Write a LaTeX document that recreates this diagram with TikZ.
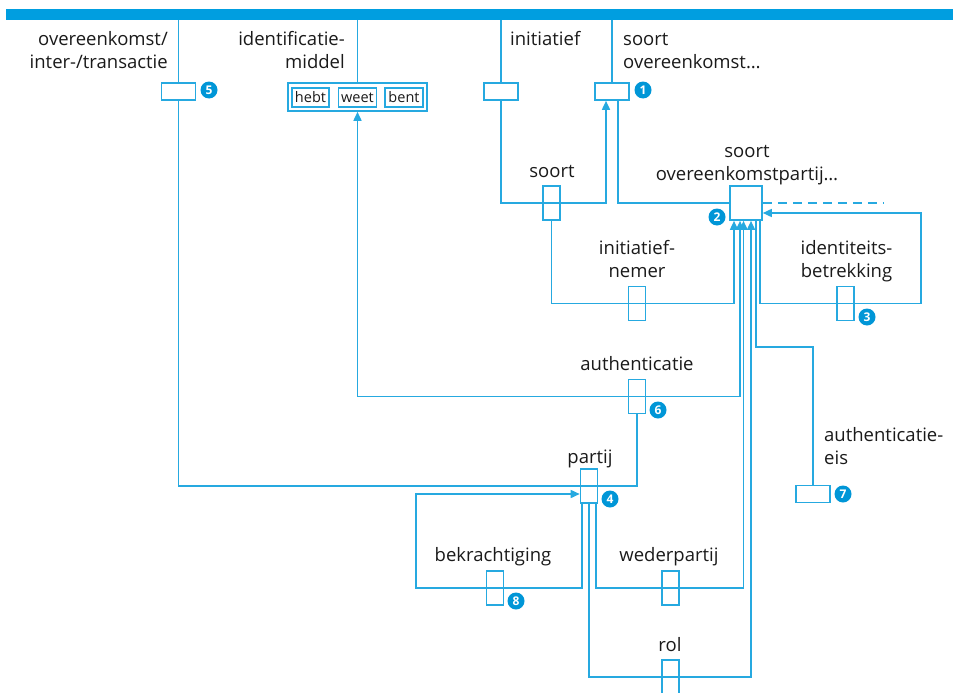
\documentclass[tikz,border=0pt]{standalone}
\usepackage{fontspec}
\setmainfont{Open Sans}
\usetikzlibrary{arrows.meta,calc}
\definecolor{lineblue}{RGB}{38,169,224}
\definecolor{barblue}{RGB}{0,158,224}
\definecolor{badgeblue}{RGB}{0,150,215}
\definecolor{inktext}{RGB}{26,26,26}
\tikzset{
  conn/.style={draw=lineblue, line width=1.6pt},
  arr/.style={conn, -{Triangle[length=9pt,width=8pt]}},
  relbox/.style={draw=lineblue, line width=1.6pt, inner sep=0pt},
  relh/.style={relbox, minimum width=34pt, minimum height=17pt},
  relv/.style={relbox, minimum width=17pt, minimum height=34pt},
  lbl/.style={inner sep=0pt, text=inktext, font=\fontsize{18.5}{23}\selectfont},
  wordbox/.style={draw=lineblue, line width=1.2pt, inner sep=0pt, minimum height=19pt,
    text=inktext, font=\fontsize{14.5}{17}\selectfont},
  badge/.style={circle, fill=badgeblue, inner sep=0pt, minimum size=17pt,
    text=white, font=\fontsize{12}{14}\selectfont\bfseries},
}
\begin{document}
\begin{tikzpicture}[x=1pt, y=-1pt]
\useasboundingbox (0,0) rectangle (953,693);

% header bar
\node[fill=barblue, inner sep=0pt, minimum width=947pt, minimum height=11pt] (topbar) at (479.5,14.5) {};

% relation boxes
\node[relh] (b5) at (178.5,91.5) {};
\node[relbox, minimum width=139pt, minimum height=28pt] (idm) at (357.5,97) {};
\node[wordbox, minimum width=37pt] (hebt) at (310.5,97.5) {hebt};
\node[wordbox, minimum width=38pt] (weet) at (357.5,97.5) {weet};
\node[wordbox, minimum width=38pt] (bent) at (404,97.5) {bent};
\node[relh] (bInit) at (501,91.5) {};
\node[relh] (b1) at (612,91.5) {};
\node[relv] (bSoort) at (551.5,203) {};
\node[relbox, minimum width=32pt, minimum height=34pt] (b2) at (746,203) {};
\node[relv] (bNemer) at (637,303.5) {};
\node[relv] (bIdent) at (845.5,303.5) {};
\node[relv] (bAuth) at (637,396.5) {};
\node[relh] (bAE) at (813,494) {};
\node[relv] (bPartij) at (589,486) {};
\node[relv] (bBekr) at (495,588) {};
\node[relv] (bWeder) at (670.5,588) {};
\node[relv] (bRol) at (670.5,677) {};

% labels
\node[lbl, anchor=north east, align=right] (tOvk) at (168,29) {\strut overeenkomst/\\\strut inter-/transactie};
\node[lbl, anchor=north east, align=right] (tIdm) at (345,29) {\strut identificatie-\\\strut middel};
\node[lbl, anchor=north west] (tInit) at (510,29) {\strut initiatief};
\node[lbl, anchor=north west, align=left] (tSoortOvk) at (623,29) {\strut soort\\\strut overeenkomst…};
\node[lbl, anchor=north] (tSoort) at (552,160.7) {\strut soort};
\node[lbl, anchor=north, align=center] (tSop) at (747,140.7) {\strut soort\\\strut overeenkomstpartij…};
\node[lbl, anchor=north, align=center] (tNemer) at (637,238) {\strut initiatief-\\\strut nemer};
\node[lbl, anchor=north, align=center] (tIdent) at (846.5,238) {\strut identiteits-\\\strut betrekking};
\node[lbl, anchor=north] (tAuth) at (637,354) {\strut authenticatie};
\node[lbl, anchor=north] (tPartij) at (590,447) {\strut partij};
\node[lbl, anchor=north] (tBekr) at (493,545) {\strut bekrachtiging};
\node[lbl, anchor=north] (tWeder) at (669,545) {\strut wederpartij};
\node[lbl, anchor=north] (tRol) at (670,635) {\strut rol};
\node[lbl, anchor=north west, align=left] (tAE) at (824,425) {\strut authenticatie-\\\strut eis};

% badges
\node[badge] (n1) at (643,90) {1};
\node[badge] (n2) at (717,217) {2};
\node[badge] (n3) at (867,317) {3};
\node[badge] (n4) at (610,499) {4};
\node[badge] (n5) at (209,90) {5};
\node[badge] (n6) at (658,410) {6};
\node[badge] (n7) at (843,494) {7};
\node[badge] (n8) at (516,601) {8};

% corner points
\coordinate (dashEnd) at (883,203);
\coordinate (idR) at (921,213);
\coordinate (aeTurn) at (813,347);
\coordinate (bkL) at (416,494);

% drops from the header bar
\draw[conn] (b5.north |- topbar.south) -- (b5.north);
\draw[conn] (idm.north |- topbar.south) -- (idm.north);
\draw[conn] (bInit.north |- topbar.south) -- (bInit.north);
\draw[conn] (b1.north |- topbar.south) -- (b1.north);

% connectors
\draw[arr] (bInit.south) |- (bSoort.center) -| ([xshift=-6pt]b1.south);
\draw[conn] ([xshift=6pt]b1.south) |- (b2.west);
\draw[conn, dash pattern=on 9pt off 6pt] (b2.east) -- (dashEnd);
\draw[arr] (bSoort.south) |- (bNemer.center) -| ([xshift=-12pt]b2.south);
\draw[arr] ([xshift=14pt]b2.south) |- (bIdent.center) -| (idR) -- ([yshift=-10pt]b2.east);
\draw[arr] (bAuth.center) -| (idm.south);
\draw[arr] (bAuth.center) -| ([xshift=-6pt]b2.south);
\draw[conn] (bAuth.south) |- (bPartij.center);
\draw[conn] (bPartij.center) -| (b5.south);
\draw[conn] ([xshift=10pt]b2.south) |- (aeTurn) -- (bAE.north);
\draw[arr] ([xshift=-7pt]bPartij.south) |- (bBekr.center) -| (bkL) -- ([yshift=-8pt]bPartij.west);
\draw[arr] ([xshift=7pt]bPartij.south) |- (bWeder.center) -| ([xshift=-2.5pt]b2.south);
\draw[arr] (bPartij.south) |- (bRol.center) -| ([xshift=5pt]b2.south);
\end{tikzpicture}
\end{document}
